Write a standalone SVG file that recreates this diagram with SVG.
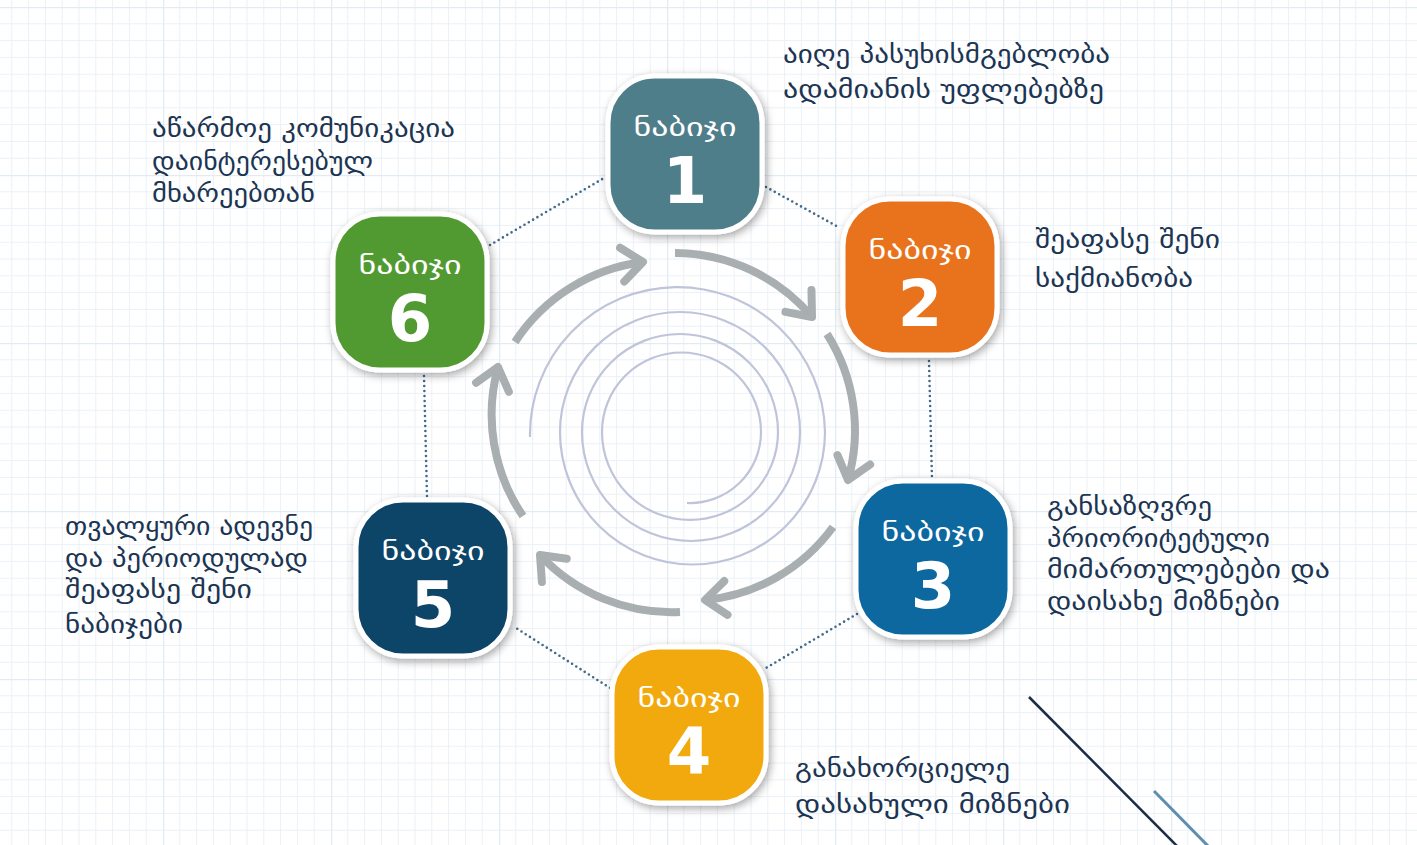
<svg xmlns="http://www.w3.org/2000/svg" width="1417" height="845" viewBox="0 0 1417 845">
<style>
.minor{stroke:#EAF1F7;stroke-width:1;fill:none}
.major{stroke:#E2EAF2;stroke-width:2.5;fill:none}
.dot{stroke:#41698A;stroke-width:2.6;stroke-linecap:round;stroke-dasharray:0 5;fill:none}
.arr{stroke:#A9AFB1;stroke-width:8;fill:none;stroke-linecap:butt}
.spiral{stroke:#BFC4DA;stroke-width:2.2;fill:none}
.box{stroke:#FFFFFF;stroke-width:5;filter:url(#sh)}
.lbl{font-family:"DejaVu Sans","Noto Sans",sans-serif;font-size:25px;fill:#FFFFFF;text-anchor:middle}
.num{font-family:"DejaVu Sans","Liberation Sans",sans-serif;font-weight:bold;font-size:64px;fill:#FFFFFF;text-anchor:middle}
.txt{font-family:"DejaVu Sans","Noto Sans",sans-serif;font-size:25px;fill:#1C3553}
</style>
<defs>
<pattern id="grid" patternUnits="userSpaceOnUse" x="-5" y="7" width="168" height="168">
<path class="minor" d="M16.8,0V168M33.6,0V168M50.4,0V168M67.2,0V168M84,0V168M100.8,0V168M117.6,0V168M134.4,0V168M151.2,0V168M0,16.8H168M0,33.6H168M0,50.4H168M0,67.2H168M0,84H168M0,100.8H168M0,117.6H168M0,134.4H168M0,151.2H168"/>
<path class="major" d="M0,0V168M0,0H168"/>
</pattern>
<filter id="sh" x="-20%" y="-20%" width="140%" height="140%">
<feDropShadow dx="2" dy="3" stdDeviation="4" flood-color="#000" flood-opacity="0.35"/>
</filter>
<marker id="ah" markerUnits="userSpaceOnUse" markerWidth="60" markerHeight="60" refX="0" refY="0" viewBox="-30 -30 60 60" orient="auto" overflow="visible">
<path d="M-21,-17 L0,0 L-21,17" fill="none" stroke="#A9AFB1" stroke-width="8" stroke-linecap="round" stroke-linejoin="round"/>
</marker>
</defs>
<rect width="1417" height="845" fill="#FFFFFF"/>
<rect width="1417" height="845" fill="url(#grid)"/>

<g id="decor">
<line x1="1029" y1="697" x2="1178" y2="847" stroke="#1B2D45" stroke-width="2.5"/>
<line x1="1154" y1="791" x2="1210" y2="848" stroke="#5E8FAE" stroke-width="3"/>
<path class="spiral" d="M530,437 A147.5,147.5 0 0 1 825,432 A132.5,132.5 0 0 1 560,432 A120,120 0 0 1 800,432 A109,109 0 0 1 582,432 A98,98 0 0 1 778,432 A88,88 0 0 1 602,432 A79.5,79.5 0 0 1 761,432 A71,71 0 0 1 687,503"/>
</g>

<g id="connectors">
<line class="dot" x1="490" y1="245" x2="604" y2="178"/>
<line class="dot" x1="766" y1="187" x2="840" y2="228"/>
<line class="dot" x1="929" y1="361" x2="932" y2="479"/>
<line class="dot" x1="857" y1="614" x2="766" y2="668"/>
<line class="dot" x1="610" y1="688" x2="516" y2="628"/>
<line class="dot" x1="427" y1="496" x2="424" y2="376"/>
<path class="arr" marker-end="url(#ah)" d="M675,253 A180,180 0 0 1 812,317"/>
<path class="arr" marker-end="url(#ah)" d="M827,334 A180,180 0 0 1 848,480"/>
<path class="arr" marker-end="url(#ah)" d="M833,527 A180,180 0 0 1 705,600"/>
<path class="arr" marker-end="url(#ah)" d="M680,612 A180,180 0 0 1 540,555"/>
<path class="arr" marker-end="url(#ah)" d="M523,516 A180,180 0 0 1 498,367"/>
<path class="arr" marker-end="url(#ah)" d="M515,342 A180,180 0 0 1 643,262"/>
</g>

<g id="step1">
<rect class="box" x="608" y="76" width="154" height="156" rx="47" fill="#4F7E8B"/>
<text class="lbl" x="685" y="136" textLength="103" lengthAdjust="spacingAndGlyphs">ნაბიჯი</text>
<text class="num" x="685" y="203">1</text>
</g>
<g id="step2">
<rect class="box" x="843" y="199" width="154" height="156" rx="47" fill="#E8731F"/>
<text class="lbl" x="920" y="259" textLength="103" lengthAdjust="spacingAndGlyphs">ნაბიჯი</text>
<text class="num" x="920" y="326">2</text>
</g>
<g id="step3">
<rect class="box" x="856" y="481" width="154" height="156" rx="47" fill="#0A68A0"/>
<text class="lbl" x="933" y="541" textLength="103" lengthAdjust="spacingAndGlyphs">ნაბიჯი</text>
<text class="num" x="933" y="608">3</text>
</g>
<g id="step4">
<rect class="box" x="612" y="647" width="154" height="156" rx="47" fill="#F2A90A"/>
<text class="lbl" x="689" y="707" textLength="103" lengthAdjust="spacingAndGlyphs">ნაბიჯი</text>
<text class="num" x="689" y="774">4</text>
</g>
<g id="step5">
<rect class="box" x="356" y="500" width="154" height="156" rx="47" fill="#0F4468"/>
<text class="lbl" x="433" y="560" textLength="103" lengthAdjust="spacingAndGlyphs">ნაბიჯი</text>
<text class="num" x="433" y="627">5</text>
</g>
<g id="step6">
<rect class="box" x="333" y="214" width="154" height="156" rx="47" fill="#519A31"/>
<text class="lbl" x="410" y="274" textLength="103" lengthAdjust="spacingAndGlyphs">ნაბიჯი</text>
<text class="num" x="410" y="341">6</text>
</g>

<g id="text1">
<text class="txt" x="783" y="63" textLength="327" lengthAdjust="spacingAndGlyphs">აიღე პასუხისმგებლობა</text>
<text class="txt" x="783" y="98" textLength="321" lengthAdjust="spacingAndGlyphs">ადამიანის უფლებებზე</text>
</g>
<g id="text2">
<text class="txt" x="1035" y="248" textLength="185" lengthAdjust="spacingAndGlyphs">შეაფასე შენი</text>
<text class="txt" x="1035" y="287" textLength="158" lengthAdjust="spacingAndGlyphs">საქმიანობა</text>
</g>
<g id="text3">
<text class="txt" x="1047" y="515" textLength="165" lengthAdjust="spacingAndGlyphs">განსაზღვრე</text>
<text class="txt" x="1047" y="547" textLength="223" lengthAdjust="spacingAndGlyphs">პრიორიტეტული</text>
<text class="txt" x="1047" y="578" textLength="283" lengthAdjust="spacingAndGlyphs">მიმართულებები და</text>
<text class="txt" x="1047" y="610" textLength="233" lengthAdjust="spacingAndGlyphs">დაისახე მიზნები</text>
</g>
<g id="text4">
<text class="txt" x="795" y="777" textLength="215" lengthAdjust="spacingAndGlyphs">განახორციელე</text>
<text class="txt" x="795" y="813" textLength="275" lengthAdjust="spacingAndGlyphs">დასახული მიზნები</text>
</g>
<g id="text5">
<text class="txt" x="65" y="535" textLength="248" lengthAdjust="spacingAndGlyphs">თვალყური ადევნე</text>
<text class="txt" x="65" y="567" textLength="243" lengthAdjust="spacingAndGlyphs">და პერიოდულად</text>
<text class="txt" x="65" y="598" textLength="187" lengthAdjust="spacingAndGlyphs">შეაფასე შენი</text>
<text class="txt" x="65" y="633" textLength="118" lengthAdjust="spacingAndGlyphs">ნაბიჯები</text>
</g>
<g id="text6">
<text class="txt" x="152" y="137" textLength="303" lengthAdjust="spacingAndGlyphs">აწარმოე კომუნიკაცია</text>
<text class="txt" x="152" y="170" textLength="221" lengthAdjust="spacingAndGlyphs">დაინტერესებულ</text>
<text class="txt" x="152" y="202" textLength="163" lengthAdjust="spacingAndGlyphs">მხარეებთან</text>
</g>
</svg>
